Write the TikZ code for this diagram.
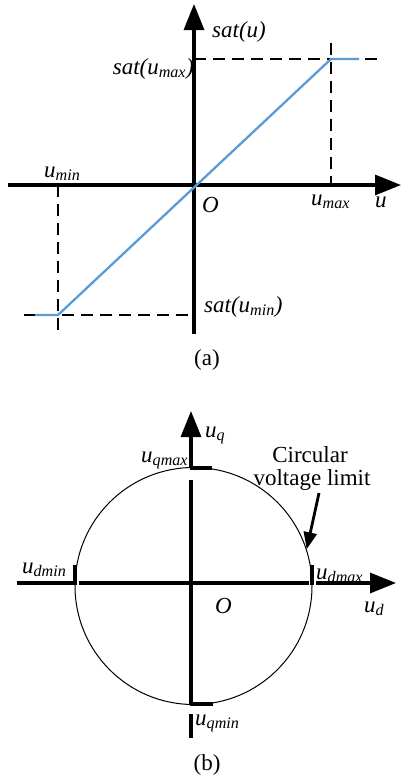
\documentclass[tikz,border=0pt]{standalone}
\usepackage{fontspec}
\setmainfont{Liberation Serif}
\usetikzlibrary{arrows.meta}
\definecolor{satblue}{RGB}{91,155,213}
\begin{document}
\begin{tikzpicture}[x=1pt,y=-1pt,
  axis/.style={line width=3.2pt},
  dsh/.style={line width=2.8pt, dash pattern=on 12pt off 7pt},
  satline/.style={line width=2.3pt, draw=satblue},
  lbl/.style={font=\fontsize{23}{27}\selectfont\itshape, inner sep=0pt, anchor=base west},
  capt/.style={font=\fontsize{23}{27}\selectfont, inner sep=0pt, anchor=base},
  bigtip/.style={-{Triangle[length=26pt,width=20pt]}},
  tickline/.style={line width=3.4pt},
]
\useasboundingbox (0,0) rectangle (401,779);
% ---------------- (a) ----------------
\coordinate (xa0) at (8,185);
\coordinate (xa1) at (401,185);
\coordinate (ya0) at (194,334);
\coordinate (ya1) at (194,4);
\coordinate (tl) at (194,59);
\coordinate (tr) at (379,59);
\coordinate (rt) at (331,43);
\coordinate (rb) at (331,185);
\coordinate (lt) at (58,185);
\coordinate (lb) at (58,331);
\coordinate (bl) at (24,315);
\coordinate (br) at (194,315);
\coordinate (s0) at (35,315);
\coordinate (s1) at (58,315);
\coordinate (s2) at (331,59);
\coordinate (s3) at (359,59);
\draw[dsh] (tl) -- (tr);
\draw[dsh] (rt) -- (rb);
\draw[dsh] (lt) -- (lb);
\draw[dsh] (bl) -- (br);
\draw[axis,bigtip] (xa0) -- (xa1);
\draw[axis,bigtip] (ya0) -- (ya1);
\draw[satline] (s0) -- (s1) -- (s2) -- (s3);
\node[lbl] (satu) at (212,37) {sat(u)};
\node[lbl,anchor=base east] (satmax) at (194,74) {sat(u\textsubscript{max})};
\node[lbl] (umin) at (44,177) {u\textsubscript{min}};
\node[lbl] (Oa) at (202,212) {O};
\node[lbl] (umax) at (311,205) {u\textsubscript{max}};
\node[lbl] (ua) at (375,207) {u};
\node[lbl] (satmin) at (204,312) {sat(u\textsubscript{min})};
\node[capt] (capa) at (207,365) {(a)};
% ---------------- (b) ----------------
\node[circle, draw, line width=1pt, minimum size=237pt, inner sep=0pt] (circ) at (193.5,586) {};
\coordinate (hx0) at (17,583);
\coordinate (hxL) at (73,583);
\coordinate (hxL2) at (79,583);
\coordinate (hxR) at (309,583);
\coordinate (hxR2) at (316,583);
\coordinate (hx1) at (396,583);
\coordinate (vy0) at (191,738);
\coordinate (vyB) at (191,714);
\coordinate (vyB2) at (191,705);
\coordinate (vyT) at (191,480);
\coordinate (vyT2) at (191,468);
\coordinate (vy1) at (191,411);
\draw[axis] (hx0) -- (hxL);
\draw[axis] (hxL2) -- (hxR);
\draw[axis,bigtip] (hxR2) -- (hx1);
\draw[axis] (vy0) -- (vyB);
\draw[axis] (vyB2) -- (vyT);
\draw[axis,bigtip] (vyT2) -- (vy1);
\coordinate (tqa) at (190,468);
\coordinate (tqb) at (212,468);
\coordinate (bqa) at (190,704);
\coordinate (bqb) at (213,704);
\coordinate (lda) at (75,565);
\coordinate (ldb) at (75,585);
\coordinate (rda) at (312,565);
\coordinate (rdb) at (312,585);
\draw[tickline] (tqa) -- (tqb);
\draw[tickline] (bqa) -- (bqb);
\draw[tickline] (lda) -- (ldb);
\draw[tickline] (rda) -- (rdb);
\node[lbl] (uq) at (205,437) {u\textsubscript{q}};
\node[lbl] (uqmax) at (141,462) {u\textsubscript{qmax}};
\node[lbl] (udmin) at (22,573) {u\textsubscript{dmin}};
\node[lbl] (udmax) at (316,579) {u\textsubscript{dmax}};
\node[lbl] (ud) at (364,612) {u\textsubscript{d}};
\node[lbl] (Ob) at (215,613) {O};
\node[lbl] (uqmin) at (195,725) {u\textsubscript{qmin}};
\node[capt] (c1) at (310,462) {Circular};
\node[capt] (c2) at (312,485) {voltage limit};
\coordinate (ca) at (319,493);
\draw[line width=2.8pt,-{Triangle[length=17pt,width=13pt]}] (ca) -- (circ.18);
\node[capt] (capb) at (207,770) {(b)};
\end{tikzpicture}
\end{document}
